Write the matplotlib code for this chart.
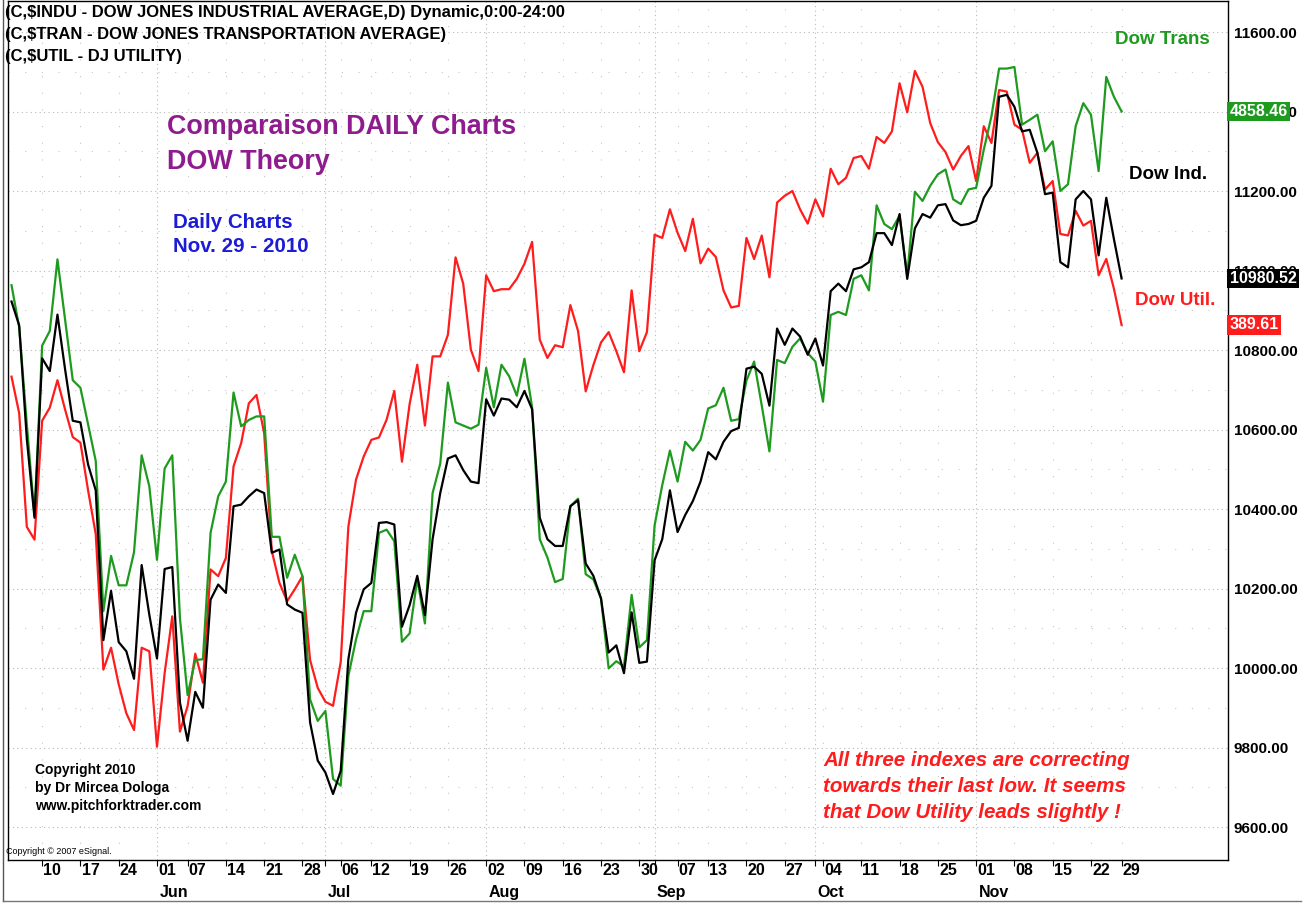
import numpy as np
import pandas as pd
import matplotlib
matplotlib.use('Agg')
import matplotlib.pyplot as plt
from matplotlib.transforms import blended_transform_factory

plt.rcParams['font.family'] = ['Liberation Sans', 'DejaVu Sans']

# trading days May 4 - Nov 29 2010 (US market holidays removed)
holidays = pd.to_datetime(['2010-05-31', '2010-07-05', '2010-09-06', '2010-11-25'])
dates = pd.bdate_range('2010-05-04', '2010-11-29')
dates = dates[~dates.isin(holidays)]

# closes, all drawn on the Dow Industrial scale (as eSignal overlays them)
dow_ind = [10922, 10862, 10576, 10378, 10779, 10747, 10889, 10751, 10622, 10618,
           10512, 10447, 10070, 10194, 10065, 10042, 9973, 10259, 10134, 10024,
           10249, 10254, 9913, 9817, 9940, 9900, 10172, 10210, 10189, 10407,
           10411, 10432, 10449, 10440, 10290, 10298, 10160, 10147, 10139, 9863,
           9767, 9737, 9683, 9741, 10022, 10139, 10198, 10214, 10365, 10367,
           10361, 10104, 10158, 10232, 10133, 10324, 10440, 10527, 10535, 10498,
           10469, 10465, 10676, 10635, 10678, 10675, 10656, 10697, 10651, 10378,
           10324, 10307, 10307, 10407, 10422, 10263, 10232, 10175, 10039, 10057,
           9987, 10140, 10013, 10016, 10271, 10324, 10447, 10342, 10385, 10420,
           10469, 10543, 10525, 10569, 10596, 10604, 10753, 10758, 10740, 10660,
           10854, 10813, 10854, 10834, 10788, 10829, 10761, 10948, 10967, 10948,
           11003, 11008, 11021, 11094, 11094, 11064, 11142, 10979, 11106, 11142,
           11133, 11164, 11167, 11126, 11114, 11117, 11125, 11183, 11213, 11437,
           11442, 11412, 11350, 11354, 11296, 11192, 11196, 11021, 11008, 11179,
           11200, 11179, 11038, 11183, 11079, 10980]

dow_trans = [10963, 10857, 10613, 10383, 10811, 10848, 11028, 10876, 10724, 10705,
             10613, 10521, 10143, 10282, 10208, 10208, 10291, 10535, 10457, 10272,
             10502, 10535, 10125, 9932, 10020, 10022, 10340, 10432, 10469, 10693,
             10608, 10624, 10633, 10633, 10330, 10330, 10227, 10285, 10231, 9921,
             9867, 9892, 9721, 9704, 9980, 10072, 10143, 10143, 10340, 10348,
             10319, 10066, 10087, 10224, 10112, 10440, 10514, 10718, 10618, 10610,
             10602, 10612, 10755, 10656, 10763, 10734, 10685, 10778, 10656, 10324,
             10278, 10216, 10224, 10407, 10426, 10236, 10223, 10175, 9999, 10017,
             10004, 10184, 10052, 10070, 10359, 10460, 10547, 10469, 10569, 10547,
             10574, 10653, 10661, 10705, 10622, 10626, 10723, 10771, 10660, 10545,
             10775, 10767, 10808, 10829, 10792, 10771, 10670, 10888, 10896, 10888,
             10979, 10988, 10950, 11164, 11117, 11104, 11138, 10988, 11198, 11175,
             11213, 11242, 11254, 11179, 11167, 11204, 11208, 11304, 11388, 11508,
             11508, 11512, 11367, 11379, 11392, 11300, 11325, 11200, 11217, 11363,
             11421, 11392, 11250, 11487, 11437, 11400]

dow_util = [10733, 10641, 10355, 10323, 10622, 10655, 10724, 10650, 10581, 10567,
            10447, 10337, 9996, 10051, 9959, 9886, 9844, 10051, 10042, 9802,
            9987, 10130, 9840, 9904, 10036, 9963, 10248, 10231, 10277, 10507,
            10566, 10666, 10687, 10591, 10294, 10214, 10168, 10198, 10231, 10020,
            9950, 9915, 9905, 10015, 10356, 10474, 10532, 10574, 10580, 10625,
            10697, 10519, 10664, 10763, 10610, 10784, 10784, 10838, 11033, 10967,
            10801, 10747, 10988, 10948, 10953, 10953, 10979, 11017, 11072, 10826,
            10780, 10812, 10807, 10913, 10848, 10696, 10762, 10819, 10845, 10797,
            10744, 10950, 10797, 10845, 11090, 11082, 11154, 11095, 11049, 11130,
            11018, 11055, 11034, 10950, 10907, 10911, 11082, 11029, 11088, 10983,
            11171, 11188, 11200, 11154, 11118, 11179, 11136, 11256, 11217, 11233,
            11283, 11288, 11256, 11336, 11321, 11350, 11471, 11398, 11502, 11462,
            11371, 11323, 11298, 11254, 11288, 11313, 11225, 11363, 11321, 11454,
            11450, 11367, 11354, 11271, 11296, 11204, 11225, 11092, 11088, 11150,
            11113, 11125, 10988, 11029, 10954, 10863]

last_labels = ['10980.52', '4858.46', '389.61']
y_ticks = [9600, 9800, 10000, 10200, 10400, 10600, 10800, 11000, 11200, 11400, 11600]

GREEN = '#1e9b1e'
RED = '#ff1c1c'

x = np.arange(len(dates))

# week starts (first trading day of each week) and month starts
week_idx = [i for i in range(1, len(dates)) if dates[i].weekday() < dates[i - 1].weekday()]
month_idx = [i for i in range(1, len(dates)) if dates[i].month != dates[i - 1].month]

fig = plt.figure(figsize=(13.12, 9.05), dpi=100)
ax = fig.add_axes([8 / 1312, 45 / 905, 1220 / 1312, 859 / 905])

ax.plot(x, dow_util, color=RED, lw=1.6, zorder=3)
ax.plot(x, dow_trans, color=GREEN, lw=1.6, zorder=3)
ax.plot(x, dow_ind, color='black', lw=1.6, zorder=4)

ax.set_xlim(-0.46, 158.9)
ax.set_ylim(9517, 11678)

# grid
ax.set_yticks(y_ticks)
ax.set_yticks(np.arange(9700, 11700, 200), minor=True)
ax.set_xticks(month_idx)
ax.set_xticks(week_idx, minor=True)
ax.grid(True, which='major', color='#b8b8b8', linestyle=(0, (1, 3)), lw=0.8)
ax.grid(True, which='minor', color='#c8c8c8', linestyle=(0, (1, 14)), lw=0.8)

# right price axis
ax.yaxis.tick_right()
ax.set_yticklabels([f'{v:.2f}' for v in y_ticks])
ax.tick_params(axis='y', which='both', length=0, pad=4, labelsize=11)
for t in ax.get_yticklabels():
    t.set_fontweight('bold')

# date axis
ax.set_xticklabels([])
ax.tick_params(axis='x', which='both', length=4, width=0.8, labelbottom=False)
xt = ax.get_xaxis_transform()
for i in week_idx:
    ax.text(i + 0.15, -10 / 859, dates[i].strftime('%d'), transform=xt, ha='left',
            va='center', fontsize=11.5, fontweight='bold', clip_on=False)
for i in month_idx:
    ax.text(i + 0.3, -32 / 859, dates[i].strftime('%b'), transform=xt, ha='left',
            va='center', fontsize=11.5, fontweight='bold', clip_on=False)

for s in ax.spines.values():
    s.set_linewidth(1.0)

# last value boxes on the price axis
yt = blended_transform_factory(ax.transAxes, ax.transData)
for val, lab, col in [(dow_ind[-1], last_labels[0], 'black'),
                      (dow_trans[-1], last_labels[1], GREEN),
                      (dow_util[-1], last_labels[2], RED)]:
    ax.text(1.0015, val, lab, transform=yt, ha='left', va='center', color='white',
            fontsize=11.5, fontweight='bold', clip_on=False, zorder=10,
            bbox=dict(boxstyle='square,pad=0.15', facecolor=col, edgecolor='none'))

# headers
fig.text(5 / 1312, 1 - 13 / 905, '(C,$INDU - DOW JONES INDUSTRIAL AVERAGE,D) Dynamic,0:00-24:00',
         fontsize=12, fontweight='bold', va='center', parse_math=False)
fig.text(5 / 1312, 1 - 35 / 905, '(C,$TRAN - DOW JONES TRANSPORTATION AVERAGE)',
         fontsize=12, fontweight='bold', va='center', parse_math=False)
fig.text(5 / 1312, 1 - 57 / 905, '(C,$UTIL - DJ UTILITY)',
         fontsize=12, fontweight='bold', va='center', parse_math=False)

fig.text(167 / 1312, 1 - 127 / 905, 'Comparaison DAILY Charts', color='#8e1c8e',
         fontsize=19.4, fontweight='bold', va='center')
fig.text(167 / 1312, 1 - 162 / 905, 'DOW Theory', color='#8e1c8e',
         fontsize=19.4, fontweight='bold', va='center')
fig.text(173 / 1312, 1 - 222 / 905, 'Daily Charts', color='#1c1cd6',
         fontsize=14.8, fontweight='bold', va='center')
fig.text(173 / 1312, 1 - 247 / 905, 'Nov. 29 - 2010', color='#1c1cd6',
         fontsize=14.8, fontweight='bold', va='center')

fig.text(1210 / 1312, 1 - 40 / 905, 'Dow Trans', color=GREEN, fontsize=13.5,
         fontweight='bold', ha='right', va='center')
fig.text(1207 / 1312, 1 - 174 / 905, 'Dow Ind.', color='black', fontsize=13.5,
         fontweight='bold', ha='right', va='center')
fig.text(1215 / 1312, 1 - 300 / 905, 'Dow Util.', color=RED, fontsize=13.5,
         fontweight='bold', ha='right', va='center')

note = ['All three indexes are correcting', 'towards their last low. It seems',
        'that Dow Utility leads slightly !']
for j, line in enumerate(note):
    fig.text(823 / 1312, 1 - (760 + 26 * j) / 905, line, color=RED, fontsize=14.8,
             fontweight='bold', fontstyle='italic', va='center')

for j, line in enumerate(['Copyright 2010', 'by Dr Mircea Dologa', 'www.pitchforktrader.com']):
    fig.text(35 / 1312, 1 - (770 + 18 * j) / 905, line, fontsize=10,
             fontweight='bold', va='center')
fig.text(6 / 1312, 1 - 851 / 905, 'Copyright \u00a9 2007 eSignal.', fontsize=6.5, va='center')

# outer frame of the chart window
fig.add_artist(plt.Line2D([3 / 1312, 3 / 1312], [0.004, 1], color='#555555', lw=1))
fig.add_artist(plt.Line2D([3 / 1312, 1301 / 1312], [0.004, 0.004], color='#777777', lw=1))

fig.savefig('out.png', dpi=100, facecolor='white')
